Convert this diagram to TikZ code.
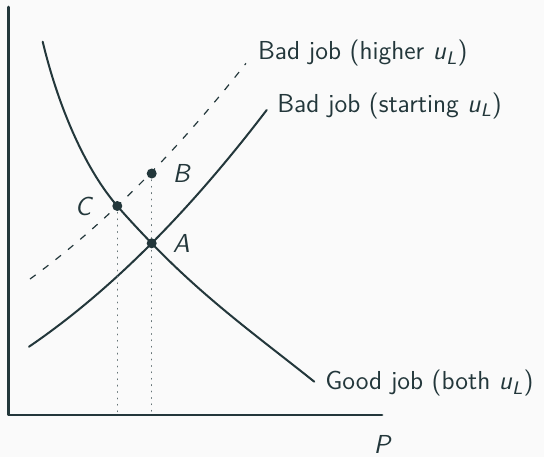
\documentclass[tikz,border=0pt]{standalone}
\usepackage{fontspec}
\usetikzlibrary{positioning,calc}
\definecolor{mDark}{HTML}{23373B}
\definecolor{mBg}{HTML}{FAFAFA}
\newcommand{\uL}{\textit{u}\textsubscript{\itshape L}}

\begin{document}
\begin{tikzpicture}[x=0.5pt, y=-0.5pt, line join=round, line cap=round,
  font=\sffamily\fontsize{13}{15}\selectfont, color=mDark,
  axis/.style={line width=1.4pt},
  curve/.style={line width=1pt},
  shifted/.style={line width=0.6pt, line cap=butt, dash pattern=on 3.5pt off 4.5pt},
  guide/.style={line width=0.5pt, mDark!70, dash pattern=on 0.4pt off 2.8pt},
  dot/.style={fill=mDark}]
% canvas
\fill[mBg] (0,0) rectangle (544,457);
\useasboundingbox (0,0) rectangle (544,457);
% axes
\coordinate (O) at (8.5,415);
\draw[axis] (8.5,7) -- (O) -- (382,415);
\node (P) at (383,444) {\textit{P}};
% equilibrium points
\coordinate (A) at (151.7,243.3);
\coordinate (B) at (151.7,173.5);
\coordinate (C) at (117.3,206);
% good job curve
\coordinate (goodEnd) at (314.3,381.7);
\draw[curve] (42.7,41.7) .. controls (59.5,111.7) and (87.3,171.5) .. (C)
  .. controls (129.3,219.8) and (139.7,230.8) .. (A)
  .. controls (206.7,300.3) and (259.3,337.7) .. (goodEnd);
% bad job, starting and higher
\coordinate (loEnd) at (266.7,110);
\coordinate (hiEnd) at (246,63.3);
\draw[curve] (29,346.7) .. controls (108.2,292.8) and (187.5,213.9) .. (loEnd);
\draw[shifted] (30,279) .. controls (102,226.7) and (174,154.9) .. (hiEnd);
% drop lines
\draw[guide] (C) -- (C |- O);
\draw[guide] (B) -- (B |- O);
\foreach \p in {A,B,C}{
  \fill[dot] (\p) circle (2.5pt);
}
\node[right=7pt of A] (lblA) {\textit{A}};
\node[right=7pt of B] (lblB) {\textit{B}};
\node[left=8.5pt of C] (lblC) {\textit{C}};
\node[anchor=west] (lblHigh) at ($(hiEnd)+(5,-10)$) {Bad job (higher \uL)};
\node[anchor=west] (lblStart) at ($(loEnd)+(3.5,-4)$) {Bad job (starting \uL)};
\node[anchor=west] (lblGood) at ($(goodEnd)+(4,1.5)$) {Good job (both \uL)};
\end{tikzpicture}
\end{document}
